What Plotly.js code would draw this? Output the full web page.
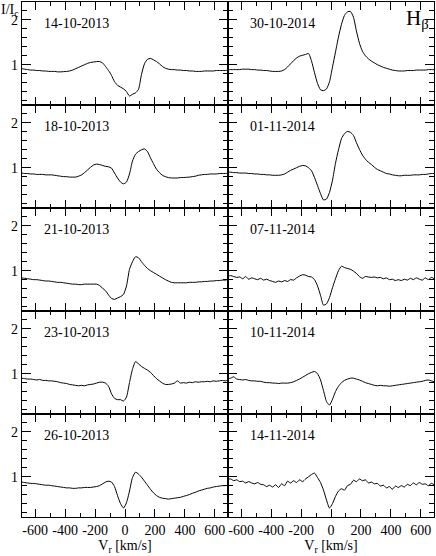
<!DOCTYPE html>
<html>
<head>
<meta charset="utf-8">
<script src="https://cdn.plot.ly/plotly-3.0.1.min.js"></script>
<style>
  html, body { margin: 0; padding: 0; background: white; }
  #hbeta { width: 436px; height: 556px; }
</style>
</head>
<body>
<div id="hbeta"></div>
<script>
// radial velocity grid [km/s]
var vr = [-690,-670,-650,-630,-610,-590,-570,-550,-530,-510,-490,-470,-450,-430,-410,-390,-370,-350,-330,-310,
  -290,-270,-250,-230,-210,-190,-170,-150,-130,-110,-90,-70,-50,-30,-10,10,30,50,70,90,
  110,130,150,170,190,210,230,250,270,290,310,330,350,370,390,410,430,450,470,490,
  510,530,550,570,590,610,630,650,670,690];

var dates = ['14-10-2013','18-10-2013','21-10-2013','23-10-2013','26-10-2013',
             '30-10-2014','01-11-2014','07-11-2014','10-11-2014','14-11-2014'];

// normalised intensity I/Ic
var p14102013 = [0.91,0.90,0.89,0.88,0.88,0.87,0.87,0.86,0.86,0.85,0.85,0.85,0.84,0.84,0.845,0.85,0.86,0.88,0.91,0.94,
  0.97,1.00,1.03,1.05,1.06,1.07,1.07,1.04,0.96,0.87,0.76,0.62,0.54,0.50,0.46,0.40,0.30,0.34,0.37,0.45,
  0.78,1.02,1.12,1.14,1.11,1.07,1.02,0.96,0.92,0.90,0.89,0.89,0.88,0.88,0.87,0.87,0.86,0.86,0.85,0.85,
  0.85,0.86,0.86,0.86,0.86,0.87,0.87,0.87,0.87,0.88];
var p18102013 = [0.88,0.87,0.87,0.86,0.86,0.85,0.85,0.85,0.84,0.84,0.84,0.83,0.82,0.81,0.80,0.80,0.79,0.79,0.79,0.81,
  0.84,0.89,0.95,1.01,1.06,1.08,1.07,1.05,1.03,1.02,0.99,0.88,0.77,0.68,0.64,0.68,0.86,1.15,1.30,1.36,
  1.40,1.42,1.36,1.22,1.09,0.97,0.89,0.83,0.80,0.78,0.77,0.77,0.77,0.78,0.78,0.785,0.79,0.80,0.81,0.83,
  0.84,0.85,0.85,0.86,0.86,0.86,0.87,0.87,0.87,0.88];
var p21102013 = [0.84,0.83,0.82,0.81,0.80,0.80,0.79,0.78,0.77,0.77,0.76,0.75,0.74,0.74,0.73,0.72,0.71,0.70,0.70,0.69,
  0.69,0.70,0.70,0.70,0.70,0.70,0.67,0.61,0.55,0.46,0.38,0.36,0.39,0.42,0.47,0.66,1.03,1.20,1.31,1.29,
  1.20,1.12,1.05,1.00,0.96,0.92,0.88,0.84,0.80,0.77,0.74,0.73,0.73,0.73,0.73,0.73,0.74,0.74,0.74,0.75,
  0.75,0.76,0.76,0.77,0.77,0.78,0.78,0.79,0.79,0.80];
var p23102013 = [0.90,0.89,0.88,0.88,0.87,0.86,0.87,0.85,0.85,0.84,0.84,0.83,0.82,0.80,0.79,0.78,0.76,0.75,0.74,0.73,
  0.74,0.73,0.75,0.76,0.77,0.79,0.81,0.81,0.79,0.72,0.55,0.45,0.42,0.42,0.39,0.48,0.80,1.10,1.27,1.22,
  1.16,1.12,1.08,1.03,0.96,0.89,0.84,0.79,0.76,0.76,0.77,0.79,0.84,0.79,0.80,0.79,0.81,0.80,0.82,0.81,
  0.82,0.82,0.83,0.82,0.84,0.83,0.84,0.85,0.84,0.86];
var p26102013 = [0.88,0.87,0.86,0.85,0.85,0.84,0.83,0.82,0.81,0.81,0.80,0.79,0.78,0.77,0.76,0.75,0.75,0.74,0.74,0.75,
  0.75,0.76,0.76,0.76,0.77,0.78,0.80,0.84,0.88,0.90,0.88,0.78,0.58,0.40,0.30,0.42,0.68,0.98,1.10,1.06,
  0.99,0.90,0.81,0.72,0.64,0.58,0.54,0.52,0.51,0.50,0.51,0.52,0.53,0.54,0.56,0.58,0.60,0.63,0.65,0.68,
  0.70,0.72,0.74,0.75,0.77,0.78,0.79,0.80,0.80,0.81];
var p30102014 = [0.88,0.89,0.89,0.89,0.89,0.90,0.90,0.90,0.89,0.89,0.88,0.88,0.87,0.87,0.86,0.85,0.85,0.85,0.86,0.89,
  0.95,1.02,1.09,1.15,1.19,1.21,1.23,1.25,1.08,0.82,0.58,0.44,0.42,0.46,0.62,0.95,1.28,1.62,1.90,2.10,
  2.18,2.19,2.06,1.75,1.48,1.30,1.20,1.13,1.08,1.04,1.00,0.97,0.94,0.92,0.90,0.88,0.87,0.86,0.86,0.86,
  0.87,0.87,0.87,0.88,0.88,0.88,0.88,0.89,0.89,0.89];
var p01112014 = [0.90,0.90,0.89,0.89,0.88,0.88,0.88,0.87,0.87,0.86,0.86,0.85,0.85,0.84,0.84,0.83,0.83,0.83,0.84,0.86,
  0.90,0.94,0.97,1.00,1.03,1.05,1.04,1.00,0.93,0.78,0.60,0.42,0.28,0.30,0.45,0.72,1.10,1.40,1.65,1.76,
  1.81,1.79,1.72,1.56,1.41,1.28,1.19,1.12,1.07,1.01,0.96,0.93,0.90,0.87,0.86,0.84,0.83,0.82,0.82,0.83,
  0.83,0.83,0.84,0.84,0.84,0.85,0.85,0.86,0.87,0.87];
var p07112014 = [0.88,0.89,0.87,0.85,0.86,0.82,0.87,0.81,0.84,0.82,0.80,0.83,0.79,0.81,0.78,0.76,0.74,0.77,0.75,0.78,
  0.76,0.80,0.79,0.84,0.88,0.91,0.90,0.87,0.86,0.80,0.66,0.45,0.23,0.26,0.40,0.62,0.82,1.00,1.10,1.07,
  1.05,1.03,0.99,0.94,0.87,0.83,0.87,0.86,0.85,0.86,0.84,0.85,0.82,0.84,0.80,0.81,0.78,0.80,0.78,0.81,
  0.79,0.83,0.80,0.84,0.81,0.79,0.84,0.80,0.85,0.82];
var p10112014 = [0.89,0.90,0.93,0.88,0.87,0.86,0.87,0.85,0.84,0.84,0.83,0.83,0.81,0.80,0.80,0.79,0.79,0.78,0.79,0.79,
  0.79,0.80,0.82,0.85,0.88,0.92,0.96,1.00,1.03,1.05,1.00,0.86,0.62,0.38,0.30,0.43,0.60,0.72,0.80,0.85,
  0.88,0.90,0.90,0.88,0.86,0.83,0.80,0.78,0.76,0.74,0.73,0.74,0.73,0.73,0.72,0.73,0.74,0.75,0.76,0.77,
  0.78,0.79,0.80,0.81,0.82,0.83,0.85,0.86,0.84,0.82];
var p14112014 = [0.94,0.95,0.91,0.93,0.89,0.90,0.86,0.89,0.86,0.84,0.87,0.83,0.82,0.78,0.81,0.77,0.82,0.76,0.84,0.80,
  0.90,0.86,0.91,0.87,0.93,0.89,0.95,1.00,1.05,1.08,0.98,0.87,0.70,0.48,0.30,0.40,0.56,0.68,0.73,0.70,
  0.80,0.83,0.92,0.89,0.95,0.91,0.93,0.86,0.88,0.84,0.85,0.79,0.81,0.75,0.78,0.72,0.79,0.76,0.80,0.77,
  0.83,0.80,0.86,0.82,0.87,0.83,0.84,0.80,0.85,0.82];

var profiles = [p14102013, p18102013, p21102013, p23102013, p26102013,
                p30102014, p01112014, p07112014, p10112014, p14112014];

var xTickVals = [-600,-400,-200,0,200,400,600];
var xTickText = ['-600','-400','-200','0','200','400','600'];
var yTickVals = [1, 2];

document.addEventListener('DOMContentLoaded', function() {

  var serif = 'Liberation Serif';
  var data = [];
  var layout = {
      width: 436,
      height: 556,
      margin: {l: 22, r: 2, t: 2, b: 39},
      paper_bgcolor: 'white',
      plot_bgcolor: 'white',
      showlegend: false,
      font: {family: serif, size: 14, color: 'black'},
      annotations: []
  };

  for (var i = 0; i < profiles.length; i++) {
      var col = i < 5 ? 0 : 1;
      var row = i % 5;
      var n = i + 1;
      var xa = 'x' + (n === 1 ? '' : n);
      var ya = 'y' + (n === 1 ? '' : n);

      data.push({
          x: vr,
          y: profiles[i],
          xaxis: xa,
          yaxis: ya,
          mode: 'lines',
          line: {color: 'black', width: 1, shape: 'spline', smoothing: 0.6},
          hoverinfo: 'skip'
      });

      layout['xaxis' + (n === 1 ? '' : n)] = {
          domain: [col * 0.5, col * 0.5 + 0.5],
          anchor: ya,
          range: [-688, 688],
          tickvals: xTickVals,
          ticktext: xTickText,
          tickangle: 0,
          ticks: 'inside',
          ticklen: 8,
          tickwidth: 1,
          tickcolor: 'black',
          minor: {dtick: 100, tick0: 0, ticks: 'inside', ticklen: 4, tickcolor: 'black'},
          showline: true,
          linecolor: 'black',
          linewidth: 1.2,
          mirror: 'ticks',
          showgrid: false,
          zeroline: false,
          showticklabels: row === 4,
          tickfont: {family: serif, size: 14, color: 'black'},
          title: row === 4 ? {text: 'V<sub>r</sub> [km/s]', font: {family: serif, size: 14}, standoff: 0} : {text: ''}
      };

      layout['yaxis' + (n === 1 ? '' : n)] = {
          domain: [1 - (row + 1) * 0.2, 1 - row * 0.2],
          anchor: xa,
          range: [0.1, 2.4],
          tickvals: yTickVals,
          ticks: 'inside',
          ticklen: 9,
          tickwidth: 1,
          tickcolor: 'black',
          minor: {dtick: 0.2, tick0: 0, ticks: 'inside', ticklen: 5, tickcolor: 'black'},
          showline: true,
          linecolor: 'black',
          linewidth: 1.2,
          mirror: 'ticks',
          showgrid: false,
          zeroline: false,
          showticklabels: col === 0,
          tickfont: {family: serif, size: 14, color: 'black'}
      };

      layout.annotations.push({
          xref: xa, yref: ya,
          x: -555, y: 1.92,
          xanchor: 'left', yanchor: 'middle',
          text: dates[i],
          showarrow: false,
          font: {family: serif, size: 14, color: 'black'}
      });
  }

  layout.annotations.push({
      xref: 'x6', yref: 'y6',
      x: 665, y: 2.36,
      xanchor: 'right', yanchor: 'top',
      text: 'H<sub>β</sub>',
      showarrow: false,
      font: {family: serif, size: 21, color: 'black'}
  });
  layout.annotations.push({
      xref: 'paper', yref: 'paper',
      x: -0.055, y: 1.004,
      xanchor: 'left', yanchor: 'top',
      text: 'I/I<sub>c</sub>',
      showarrow: false,
      font: {family: serif, size: 14, color: 'black'}
  });

  var config = {
      displayModeBar: false,
      staticPlot: true
  };

  Plotly.newPlot('hbeta', data, layout, config);
});
</script>
</body>
</html>
